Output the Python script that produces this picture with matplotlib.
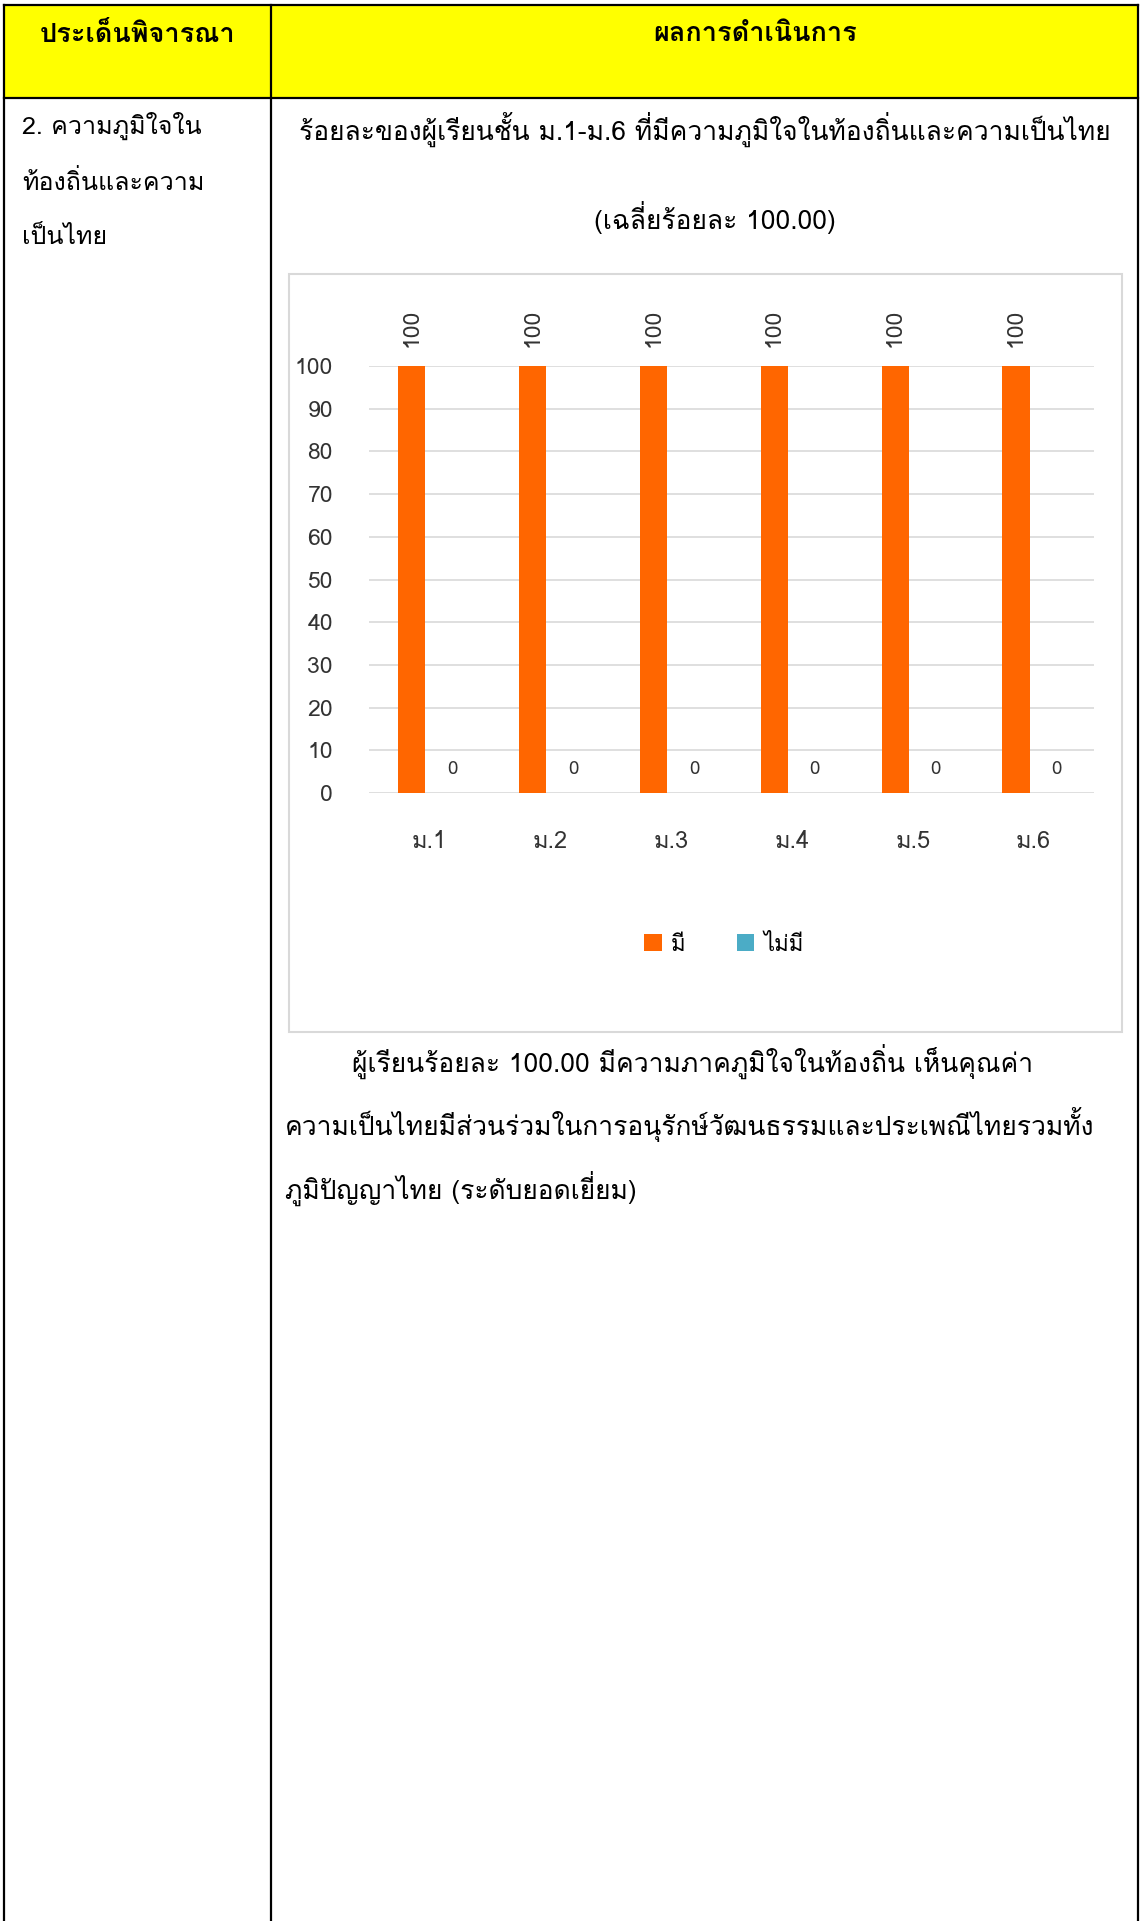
import numpy as np
import matplotlib
matplotlib.use("Agg")
import matplotlib.pyplot as plt
from matplotlib import font_manager
from matplotlib.ft2font import FT2Font
from matplotlib.patches import Rectangle
from matplotlib.lines import Line2D

plt.rcParams['font.family'] = ['Loma', 'DejaVu Sans']

# -------------------------------------------------------
# Данные
# -------------------------------------------------------
classes = ['ม.1', 'ม.2', 'ม.3', 'ม.4', 'ม.5', 'ม.6']
have = [100, 100, 100, 100, 100, 100]
have_not = [0, 0, 0, 0, 0, 0]
series_names = ['มี', 'ไม่มี']
y_ticks = [0, 10, 20, 30, 40, 50, 60, 70, 80, 90, 100]

header_left = 'ประเด็นพิจารณา'
header_right = 'ผลการดำเนินการ'
topic_lines = ['2. ความภูมิใจใน', 'ท้องถิ่นและความ', 'เป็นไทย']
title_1 = 'ร้อยละของผู้เรียนชั้น ม.1-ม.6 ที่มีความภูมิใจในท้องถิ่นและความเป็นไทย'
title_2 = '(เฉลี่ยร้อยละ 100.00)'
para_lines = ['ผู้เรียนร้อยละ 100.00 มีความภาคภูมิใจในท้องถิ่น เห็นคุณค่า',
              'ความเป็นไทยมีส่วนร่วมในการอนุรักษ์วัฒนธรรมและประเพณีไทยรวมทั้ง',
              'ภูมิปัญญาไทย (ระดับยอดเยี่ยม)']

# -------------------------------------------------------
# Тайские знаки: matplotlib не умеет ставить их друг над другом,
# поэтому берём готовые глифы из PUA (как в старых шрифтах Windows)
# -------------------------------------------------------
cmap = FT2Font(font_manager.findfont('Loma')).get_charmap()
TONES = '\u0e48\u0e49\u0e4a\u0e4b\u0e4c'
UPPER = '\u0e31\u0e34\u0e35\u0e36\u0e37\u0e47\u0e4d'
LOWER = '\u0e38\u0e39\u0e3a'
TALL = 'ปฝฟฬ'
tone_low = dict(zip(TONES, '\uf70a\uf70b\uf70c\uf70d\uf70e'))
tone_low_left = dict(zip(TONES, '\uf705\uf706\uf707\uf708\uf709'))
tone_high_left = dict(zip(TONES, '\uf713\uf714\uf715\uf716\uf717'))
upper_left = dict(zip('\u0e34\u0e35\u0e36\u0e37\u0e31\u0e4d\u0e47',
                      '\uf701\uf702\uf703\uf704\uf710\uf711\uf712'))


def thai(s):
    out = []
    base = ''
    prev = ''
    for c in s:
        new = c
        if c in UPPER:
            if base in TALL:
                new = upper_left.get(c, c)
        elif c in TONES:
            if prev in UPPER:
                if base in TALL:
                    new = tone_high_left[c]
            else:
                new = tone_low_left[c] if base in TALL else tone_low[c]
        elif c not in LOWER:
            base = c
        if ord(new) not in cmap:
            new = c
        out.append(new)
        if c not in LOWER:
            prev = c
    return ''.join(out)


W, H = 1144, 1921


def fx(px):
    return px / W


def fy(py):
    return 1 - py / H


fig = plt.figure(figsize=(W / 100, H / 100), dpi=100)

# -------------------------------------------------------
# Таблица
# -------------------------------------------------------
fig.patches.append(Rectangle((fx(4), fy(98)), fx(1138) - fx(4), fy(5) - fy(98),
                             transform=fig.transFigure, facecolor='#FFFF00',
                             edgecolor='none', zorder=0))
for xs, ys in [([4, 1138], [5, 5]), ([4, 1138], [98, 98]),
               ([4, 4], [5, H]), ([271, 271], [5, H]), ([1138, 1138], [5, H])]:
    fig.add_artist(Line2D([fx(v) for v in xs], [fy(v) for v in ys],
                          transform=fig.transFigure, color='black', lw=1.6))

fig.text(fx(138), fy(34), thai(header_left), ha='center', va='center',
         fontsize=19.5, fontweight='bold')
fig.text(fx(755), fy(34), thai(header_right), ha='center', va='center',
         fontsize=19.5, fontweight='bold')

for i, line in enumerate(topic_lines):
    fig.text(fx(22), fy(126 + i * 56), thai(line), ha='left', va='center', fontsize=18)

fig.text(fx(705), fy(129), thai(title_1), ha='center', va='center', fontsize=19)
fig.text(fx(715), fy(218), thai(title_2), ha='center', va='center', fontsize=19)

para_x = [352, 285, 285]
for i, line in enumerate(para_lines):
    fig.text(fx(para_x[i]), fy(1061 + i * 63.5), thai(line), ha='left', va='center',
             fontsize=19)

# рамка диаграммы
fig.patches.append(Rectangle((fx(289), fy(1032)), (1122 - 289) / W, (1032 - 274) / H,
                             transform=fig.transFigure, fill=False,
                             edgecolor='#d9d9d9', lw=1.5))

# -------------------------------------------------------
# Диаграмма
# -------------------------------------------------------
ax = fig.add_axes([fx(369), fy(793), (1094 - 369) / W, (793 - 366) / H])
x = np.arange(len(classes))
off1, off2, bw = -0.145, 0.19, 0.225
ax.bar(x + off1, have, width=bw, color='#FF6600', label=thai(series_names[0]), zorder=2)
ax.bar(x + off2, have_not, width=bw, color='#4BACC6', label=thai(series_names[1]), zorder=2)

ax.set_xlim(-0.5, len(classes) - 0.5)
ax.set_ylim(0, 100)
ax.set_yticks(y_ticks)
ax.set_xticks(x)
ax.set_xticklabels([thai(c) for c in classes])
ax.yaxis.grid(True, color='#d9d9d9', lw=1.2)
ax.set_axisbelow(True)
for s in ax.spines.values():
    s.set_visible(False)
ax.tick_params(length=0, colors='#333333')
ax.tick_params(axis='y', pad=26, labelsize=16.5)
ax.tick_params(axis='x', pad=27, labelsize=17)

for xi, v in zip(x, have):
    ax.annotate(str(v), (xi + off1, v), xytext=(0, 14), textcoords='offset points',
                rotation=90, ha='center', va='bottom', fontsize=16.5,
                color='#333333', annotation_clip=False)
for xi, v in zip(x, have_not):
    ax.annotate(str(v), (xi + off2, v), xytext=(0, 17), textcoords='offset points',
                ha='center', va='center', fontsize=13.5, color='#333333')

handles, labels = ax.get_legend_handles_labels()
fig.legend(handles, labels, loc='center', bbox_to_anchor=(fx(724), fy(945)),
           ncol=2, frameon=False, handlelength=0.8, handleheight=0.8,
           handletextpad=0.4, columnspacing=2.3, fontsize=16)

fig.savefig('out.png', dpi=100)
